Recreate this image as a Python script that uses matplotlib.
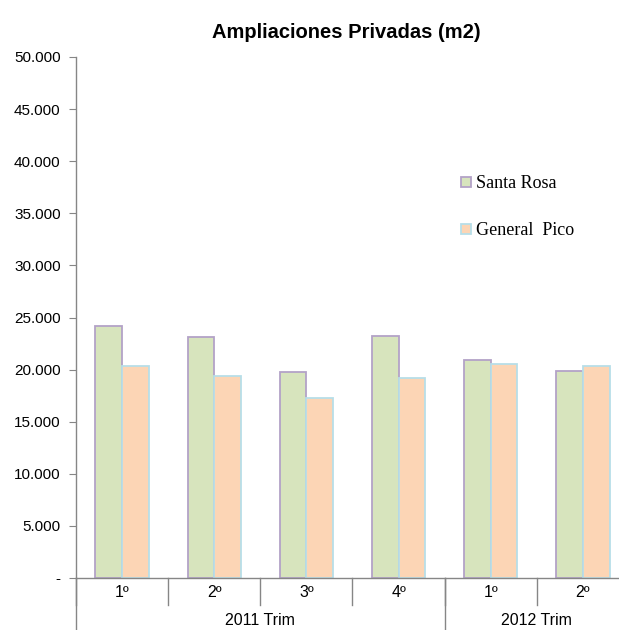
import matplotlib
matplotlib.use("Agg")
import matplotlib.pyplot as plt
import numpy as np
from matplotlib.ticker import FuncFormatter
from matplotlib.lines import Line2D
from matplotlib.transforms import blended_transform_factory

quarters = ["1º", "2º", "3º", "4º", "1º", "2º"]
years = ["2011 Trim", "2012 Trim"]
year_spans = [(0, 3), (4, 5)]
santa_rosa = [24200, 23140, 19780, 23200, 20930, 19870]
general_pico = [20385, 19420, 17280, 19200, 20545, 20385]
series_names = ["Santa Rosa", "General  Pico"]
y_ticks = list(range(0, 50001, 5000))

plt.rcParams["font.family"] = ["Liberation Sans", "DejaVu Sans"]

fig = plt.figure(figsize=(6.19, 6.30), dpi=100)
ax = fig.add_axes([76/619, 1-578/630, (629-76)/619, (578-57)/630])

x = np.arange(len(quarters))
w = 0.29
sr_face, sr_edge = "#D7E4BD", "#B3A2C7"
gp_face, gp_edge = "#FCD5B5", "#B7DEE8"
ax.bar(x - w/2, santa_rosa, width=w, color=sr_face, edgecolor=sr_edge, linewidth=1.3)
ax.bar(x + w/2, general_pico, width=w, color=gp_face, edgecolor=gp_edge, linewidth=1.3)

ax.set_xlim(-0.5, len(quarters) - 0.5)
ax.set_ylim(0, 50000)
ax.set_yticks(y_ticks)
ax.yaxis.set_major_formatter(FuncFormatter(lambda v, p: "-" if v == 0 else f"{int(v):,}".replace(",", ".")))
ax.tick_params(axis="y", direction="out", length=5, color="#868686", labelsize=11, pad=6)
ax.set_xticks([])
for s in ["top", "right"]:
    ax.spines[s].set_visible(False)
for s in ["left", "bottom"]:
    ax.spines[s].set_color("#868686")
    ax.spines[s].set_linewidth(1.0)

tr = blended_transform_factory(ax.transData, ax.transAxes)
# short separators between quarters
for i in range(len(quarters) + 1):
    xs = i - 0.5
    ax.plot([xs, xs], [0, -0.052], transform=tr, color="#868686", lw=1.0, clip_on=False)
# long separators between years
bounds = sorted(set([-0.5] + [e + 0.5 for s, e in year_spans]))
for xs in bounds:
    ax.plot([xs, xs], [0, -0.11], transform=tr, color="#868686", lw=1.0, clip_on=False)
for i, q in enumerate(quarters):
    ax.text(i, -0.028, q, transform=tr, ha="center", va="center", fontsize=11.5)
for (s, e), yl in zip(year_spans, years):
    ax.text((s + e) / 2, -0.082, yl, transform=tr, ha="center", va="center", fontsize=11.5)

fig.text(346/619, 1 - 32/630, "Ampliaciones Privadas (m2)",
         ha="center", va="center", fontsize=14.5, fontweight="bold")

handles = [Line2D([], [], marker="s", linestyle="none", markersize=7.5,
                  markerfacecolor=sr_face, markeredgecolor=sr_edge, markeredgewidth=1.3),
           Line2D([], [], marker="s", linestyle="none", markersize=7.5,
                  markerfacecolor=gp_face, markeredgecolor=gp_edge, markeredgewidth=1.3)]
fig.legend(handles, series_names, loc="upper left", bbox_to_anchor=(452/619, 1-168/630),
           frameon=False, prop={"family": "Liberation Serif", "size": 13},
           labelspacing=1.65, handlelength=0.7, handletextpad=0.25, borderaxespad=0)

fig.savefig("out.png", dpi=100)
